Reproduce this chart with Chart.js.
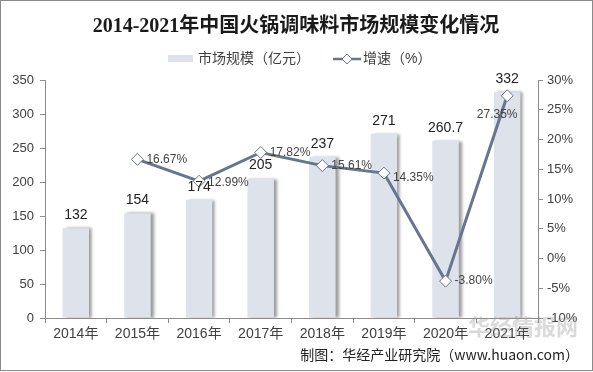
<!DOCTYPE html>
<html>
<head>
<meta charset="utf-8">
<script src="https://cdn.jsdelivr.net/npm/chart.js@4"></script>
<style>
  body { margin: 0; background: #fff; }
  #wrap { width: 593px; height: 372px; }
</style>
</head>
<body>
<div id="wrap"><canvas id="hotpot_chart" width="593" height="372"></canvas></div>
<script>
const year_labels = ["2014年", "2015年", "2016年", "2017年", "2018年", "2019年", "2020年", "2021年"];
const market_size = [132, 154, 174, 205, 237, 271, 260.7, 332];
const market_size_text = ["132", "154", "174", "205", "237", "271", "260.7", "332"];
const growth_rate = [null, 16.67, 12.99, 17.82, 15.61, 14.35, -3.80, 27.35];

const title_text = "2014-2021年中国火锅调味料市场规模变化情况";
const legend_bar = "市场规模（亿元）";
const legend_line = "增速（%）";
const source_text = "制图：华经产业研究院（www.huaon.com）";

const bar_color = "#dde2eb";
const line_color = "#67758f";
const text_color = "#404040";
const sans = "'Liberation Sans', 'Noto Sans CJK SC', sans-serif";

// bar shadow on the right side
const bar_shadow = {
  id: 'bar_shadow',
  beforeDatasetDraw(chart, args) {
    if (args.index !== 0) return;
    const ctx = chart.ctx;
    ctx.save();
    ctx.shadowColor = 'rgba(0,0,0,0.4)';
    ctx.shadowOffsetX = 3;
    ctx.shadowOffsetY = 0;
    ctx.shadowBlur = 3;
  },
  afterDatasetDraw(chart, args) {
    if (args.index !== 0) return;
    chart.ctx.restore();
  }
};

// title, legend, data labels, footer, frame
const decorations = {
  id: 'decorations',
  afterDraw(chart) {
    const ctx = chart.ctx;
    ctx.save();

    // title
    ctx.fillStyle = '#1a1a1a';
    ctx.font = "bold 20px 'Liberation Serif', 'Noto Sans CJK SC', serif";
    ctx.textAlign = 'center';
    ctx.textBaseline = 'middle';
    ctx.fillText(title_text, 296, 27);

    // legend
    ctx.font = "14px " + sans;
    ctx.textAlign = 'left';
    ctx.fillStyle = bar_color;
    ctx.fillRect(168, 55, 25, 7);
    ctx.fillStyle = text_color;
    ctx.fillText(legend_bar, 198, 59);
    ctx.strokeStyle = line_color;
    ctx.lineWidth = 2.5;
    ctx.beginPath();
    ctx.moveTo(333, 59);
    ctx.lineTo(361, 59);
    ctx.stroke();
    ctx.fillStyle = '#fff';
    ctx.lineWidth = 1;
    ctx.beginPath();
    ctx.moveTo(347, 54); ctx.lineTo(352, 59); ctx.lineTo(347, 64); ctx.lineTo(342, 59); ctx.closePath();
    ctx.fill(); ctx.stroke();
    ctx.fillStyle = text_color;
    ctx.fillText(legend_line, 363, 59);

    // bar value labels
    const bars = chart.getDatasetMeta(0).data;
    ctx.font = "14px " + sans;
    ctx.fillStyle = '#222';
    ctx.textAlign = 'center';
    ctx.textBaseline = 'bottom';
    bars.forEach((b, i) => {
      ctx.fillText(market_size_text[i], b.x, b.y - 6);
    });

    // growth labels
    const pts = chart.getDatasetMeta(1).data;
    ctx.font = "12px " + sans;
    ctx.fillStyle = '#444';
    ctx.textBaseline = 'middle';
    pts.forEach((p, i) => {
      if (growth_rate[i] === null) return;
      const txt = growth_rate[i].toFixed(2) + '%';
      if (i === 7) {
        ctx.textAlign = 'center';
        ctx.fillText(txt, p.x - 10, p.y + 19);
      } else {
        ctx.textAlign = 'left';
        let dy = 0;
        if (i === 2) dy = 1;
        if (i === 5) dy = 5;
        ctx.fillText(txt, p.x + 9, p.y + dy);
      }
    });

    // watermark
    ctx.font = "bold 22px 'Noto Sans CJK SC', sans-serif";
    ctx.fillStyle = 'rgba(150,150,150,0.35)';
    ctx.textAlign = 'left';
    ctx.fillText("华经情报网", 468, 327);

    // source
    ctx.font = "14px 'Noto Sans CJK SC', sans-serif";
    ctx.fillStyle = '#222';
    ctx.textAlign = 'right';
    ctx.fillText(source_text, 579, 355);

    // frame
    ctx.strokeStyle = '#8a8a8a';
    ctx.lineWidth = 1;
    ctx.strokeRect(0.5, 0.5, 592, 370);
    ctx.restore();
  }
};

function contentLoaded() {
  new Chart(document.getElementById('hotpot_chart'), {
    data: {
      labels: year_labels,
      datasets: [{
        type: 'bar',
        data: market_size,
        backgroundColor: bar_color,
        barPercentage: 0.43,
        categoryPercentage: 1,
        yAxisID: 'y',
        order: 2
      }, {
        type: 'line',
        data: growth_rate,
        borderColor: line_color,
        borderWidth: 3,
        pointStyle: 'rectRot',
        pointRadius: 6,
        pointBackgroundColor: '#fff',
        pointBorderColor: line_color,
        pointBorderWidth: 1,
        yAxisID: 'y1',
        spanGaps: false,
        tension: 0,
        order: 1
      }]
    },
    options: {
      responsive: false,
      animation: false,
      events: [],
      layout: { padding: { top: 80, left: 0, right: 0, bottom: 0 } },
      plugins: { legend: { display: false }, title: { display: false }, tooltip: { enabled: false } },
      scales: {
        x: {
          grid: { display: true, drawOnChartArea: false, tickLength: 5, color: '#8c8c8c', offset: true },
          border: { color: '#8c8c8c' },
          ticks: { color: text_color, font: { size: 14, family: sans }, padding: 3 },
          afterFit: s => { s.height = 54; }
        },
        y: {
          position: 'left',
          min: 0, max: 350,
          ticks: { stepSize: 50, color: text_color, font: { size: 13, family: sans }, padding: 6 },
          grid: { drawOnChartArea: false, tickLength: 5, color: '#8c8c8c' },
          border: { color: '#8c8c8c' },
          afterFit: s => { s.width = 45; }
        },
        y1: {
          position: 'right',
          min: -10, max: 30,
          ticks: { stepSize: 5, color: text_color, font: { size: 13, family: sans }, padding: 4,
                   callback: v => v + '%' },
          grid: { drawOnChartArea: false, tickLength: 5, color: '#8c8c8c' },
          border: { color: '#8c8c8c' },
          afterFit: s => { s.width = 55; }
        }
      }
    },
    plugins: [bar_shadow, decorations]
  });
}

document.addEventListener('DOMContentLoaded', contentLoaded, false);
</script>
</body>
</html>
